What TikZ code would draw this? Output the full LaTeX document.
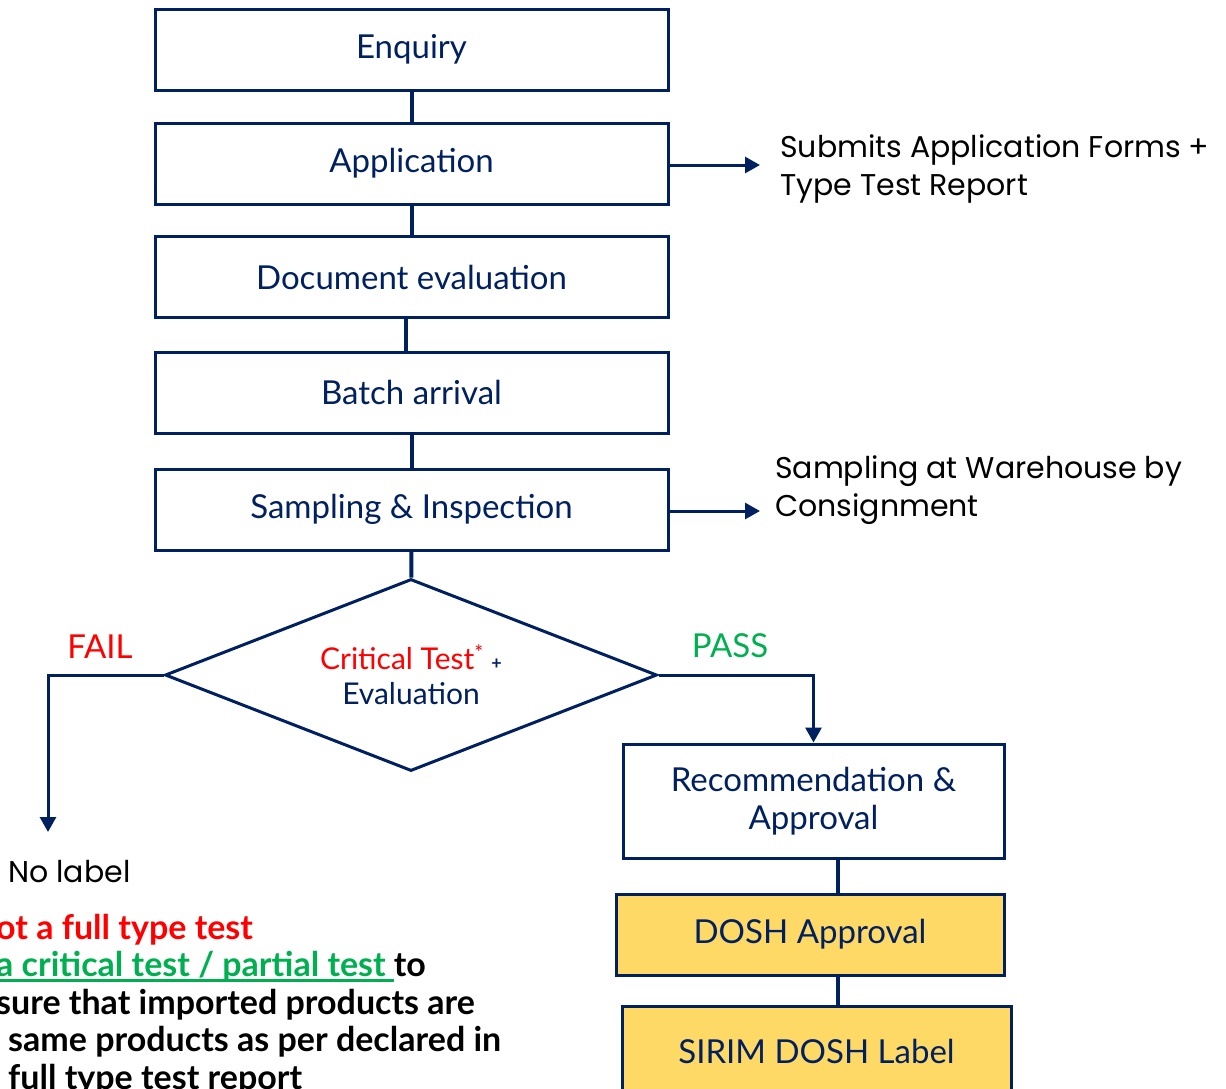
\documentclass[tikz,border=0pt]{standalone}
\usepackage{fontspec}
\setmainfont{Lato}
\newfontfamily\sidefont{Poppins}
\usetikzlibrary{shapes.geometric,arrows.meta,positioning}

\definecolor{navy}{HTML}{002060}
\definecolor{failred}{HTML}{FF0000}
\definecolor{passgreen}{HTML}{00B050}
\definecolor{gold}{HTML}{FFD966}

% thick coloured underline
\newcommand\thickline[1]{\setbox0\hbox{#1}%
  \rlap{\rule[-5pt]{\wd0}{2.5pt}}\box0}

\tikzset{
  stage/.style={draw=navy, line width=3pt, minimum width=513pt,
    minimum height=81pt, text=navy, align=center,
    font=\fontsize{33}{38}\selectfont},
  decision/.style={diamond, draw=navy, line width=3pt, inner sep=0pt,
    minimum width=492pt, minimum height=192pt, aspect=2.56, align=center,
    font=\fontsize{30}{35}\selectfont},
  link/.style={navy, line width=4pt},
  flow/.style={navy, line width=3pt, -{Triangle[width=16pt,length=15pt]}},
  note/.style={anchor=west, align=left, inner sep=0pt,
    font=\sidefont\fontsize{30}{38.5}\selectfont},
}

\begin{document}
\begin{tikzpicture}[x=1pt,y=-1pt]
  \useasboundingbox (0,0) rectangle (1226,1088);

  % main column
  \foreach \name/\ypos/\label in {
      enquiry/49.5/Enquiry,
      application/163.5/Application,
      doceval/277/Document evaluation,
      batch/392.5/Batch arrival,
      sampling/509.5/Sampling \& Inspection%
    } {
      \node[stage] (\name) at (411.5,\ypos) {\label};
    };
  \node[decision] (check) at (411,675)
    {\textcolor{failred}{Critical Test\textsuperscript{*}}
     {\fontsize{18}{20}\bfseries\selectfont\textcolor{navy}{+}}\\
     \textcolor{navy}{Evaluation}};

  % right column
  \node[stage, minimum width=381pt, minimum height=114pt]
    (recommend) at (813.5,801) {Recommendation \&\\Approval};
  \node[stage, fill=gold, minimum width=388pt] (dosh) at (810,934.5)
    {DOSH Approval};
  \node[stage, fill=gold, minimum width=389pt, minimum height=90pt]
    (sirim) at (816.5,1051) {SIRIM DOSH Label};

  % side notes
  \node[note] (forms) at (780,169)
    {Submits Application Forms +\\Type Test Report};
  \node[note] (warehouse) at (775,490)
    {Sampling at Warehouse by\\Consignment};
  \coordinate (formsend) at (760,0);
  \coordinate (warehouseend) at (760,0);
  \coordinate (failend) at (48,832);
  \coordinate (spine) at (838,0);

  % connectors
  \draw[link] (enquiry) -- (application);
  \draw[link] (application) -- (doceval);
  \draw[link] ([xshift=-5.5pt]doceval.south) -- ([xshift=-5.5pt]batch.north);
  \draw[link] (batch) -- (sampling);
  \draw[link] (sampling) -- (check);
  \draw[link] (recommend.south -| spine) -- (dosh.north -| spine);
  \draw[link] (dosh.south -| spine) -- (sirim.north -| spine);
  \draw[flow] ([yshift=-1.5pt]application.east) -- ([yshift=-1.5pt]application.east -| formsend);
  \draw[flow] ([yshift=-1.5pt]sampling.east) -- ([yshift=-1.5pt]sampling.east -| warehouseend);
  \draw[flow] (check.west) -| (failend);
  \draw[flow] (check.east) -| (recommend.north);

  % outcomes
  \node[text=failred, font=\fontsize{33}{38}\selectfont] (fail)
    at (100,647) {FAIL};
  \node[text=passgreen, font=\fontsize{33}{38}\selectfont] (pass)
    at (730,646) {PASS};
  \node[anchor=west, inner sep=0pt, font=\sidefont\fontsize{30}{36}\selectfont]
    (nolabel) at (8,872) {No label};
  \node[anchor=north west, align=left, inner sep=0pt,
    font=\bfseries\fontsize{34}{37.5}\selectfont] (remark) at (-4,914)
    {\textcolor{failred}{ot a full type test}\\
     \textcolor{passgreen}{\thickline{a critical test / partial test }}to\\
     sure that imported products are\\
     \hspace*{12pt}same products as per declared in\\
     \hspace*{12pt}full type test report};
\end{tikzpicture}
\end{document}
